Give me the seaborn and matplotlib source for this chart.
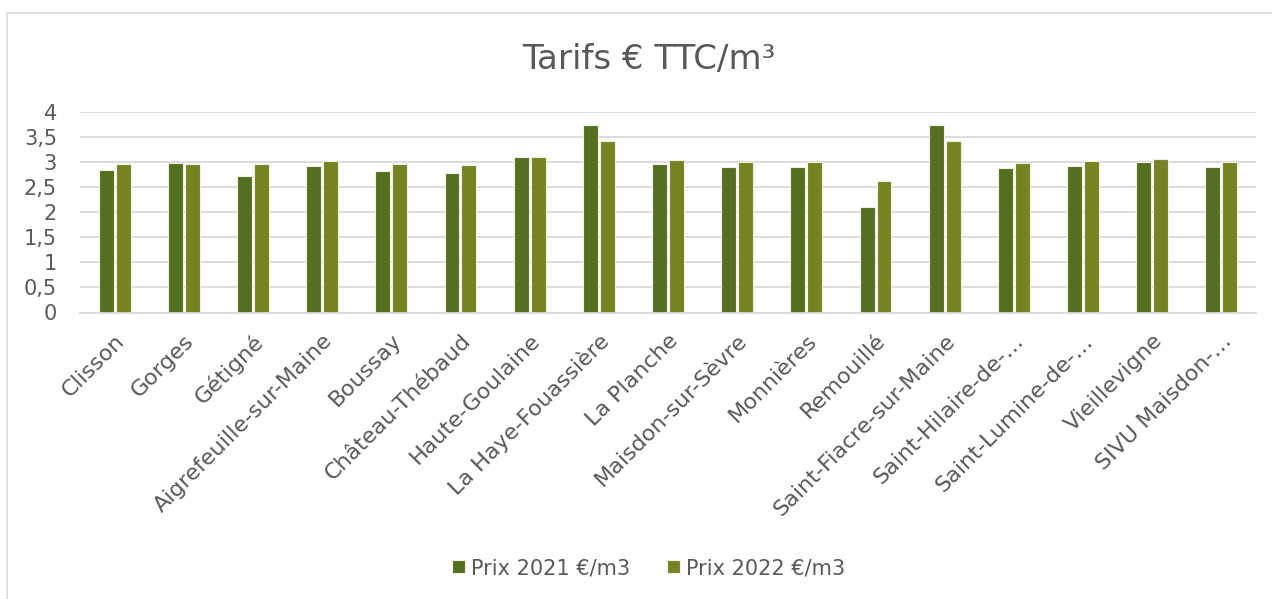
import matplotlib
matplotlib.use("Agg")
import matplotlib.pyplot as plt
from matplotlib.patches import Rectangle
from matplotlib.ticker import FuncFormatter
import pandas as pd
import seaborn as sns

# Data
communes = ["Clisson", "Gorges", "Gétigné", "Aigrefeuille-sur-Maine", "Boussay",
            "Château-Thébaud", "Haute-Goulaine", "La Haye-Fouassière", "La Planche",
            "Maisdon-sur-Sèvre", "Monnières", "Remouillé", "Saint-Fiacre-sur-Maine",
            "Saint-Hilaire-de-…", "Saint-Lumine-de-…", "Vieillevigne", "SIVU Maisdon-…"]
prix_2021 = [2.83, 2.98, 2.72, 2.91, 2.82, 2.77, 3.10, 3.73, 2.96,
             2.90, 2.90, 2.10, 3.73, 2.88, 2.91, 2.99, 2.90]
prix_2022 = [2.95, 2.95, 2.95, 3.01, 2.96, 2.94, 3.10, 3.42, 3.03,
             3.00, 3.00, 2.61, 3.42, 2.98, 3.01, 3.05, 3.00]
series = ["Prix 2021 €/m3", "Prix 2022 €/m3"]

df = pd.DataFrame({
    "commune": communes * 2,
    "prix": prix_2021 + prix_2022,
    "serie": [series[0]] * len(communes) + [series[1]] * len(communes),
})

sns.set_style("white")
plt.rcParams['font.family'] = ['DejaVu Sans']
txt_color = "#595959"
grid_color = "#d9d9d9"

fig = plt.figure(figsize=(12.72, 5.99), dpi=100)
# chart border (only left and top edges are visible in the picture)
fig.patches.append(Rectangle((7 / 1272, -0.1), 1.2, 1.1 - 13 / 599, transform=fig.transFigure,
                             fill=False, edgecolor=grid_color, linewidth=1.2))

ax = fig.add_axes([80 / 1272, 1 - 312.5 / 599, (1256 - 80) / 1272, 200.8 / 599])
sns.barplot(data=df, x="commune", y="prix", hue="serie", ax=ax,
            palette=["#556f21", "#778222"], width=0.49, gap=0.12,
            edgecolor="#eef0e4", linewidth=0.8, saturation=1)

ax.set_ylim(0, 4)
ax.set_xlim(-0.5, len(communes) - 0.5)
ax.set_yticks([i * 0.5 for i in range(9)])
ax.yaxis.set_major_formatter(FuncFormatter(lambda v, p: f"{v:g}".replace(".", ",")))
ax.grid(axis="y", color=grid_color, linewidth=1.3)
ax.set_axisbelow(True)
for s in ["top", "right", "left"]:
    ax.spines[s].set_visible(False)
ax.spines["bottom"].set_color(grid_color)
ax.spines["bottom"].set_linewidth(1.3)
ax.tick_params(axis="both", length=0, labelsize=15, labelcolor=txt_color)
ax.tick_params(axis="x", labelsize=16, pad=13)
ax.tick_params(axis="y", pad=16.5)
plt.setp(ax.get_xticklabels(), rotation=45, ha="right", rotation_mode="anchor")
ax.set_xlabel("")
ax.set_ylabel("")

fig.text(0.51, 1 - 60 / 599, "Tarifs € TTC/m³", ha="center", va="center",
         fontsize=24.5, color=txt_color)

leg = ax.legend(loc="center", bbox_to_anchor=(0.51, 1 - 568 / 599),
                bbox_transform=fig.transFigure, ncol=2, frameon=False,
                fontsize=15, handlelength=0.6, handleheight=0.6,
                handletextpad=0.3, columnspacing=1.8)
for t in leg.get_texts():
    t.set_color(txt_color)

fig.savefig("out.png", dpi=100)
